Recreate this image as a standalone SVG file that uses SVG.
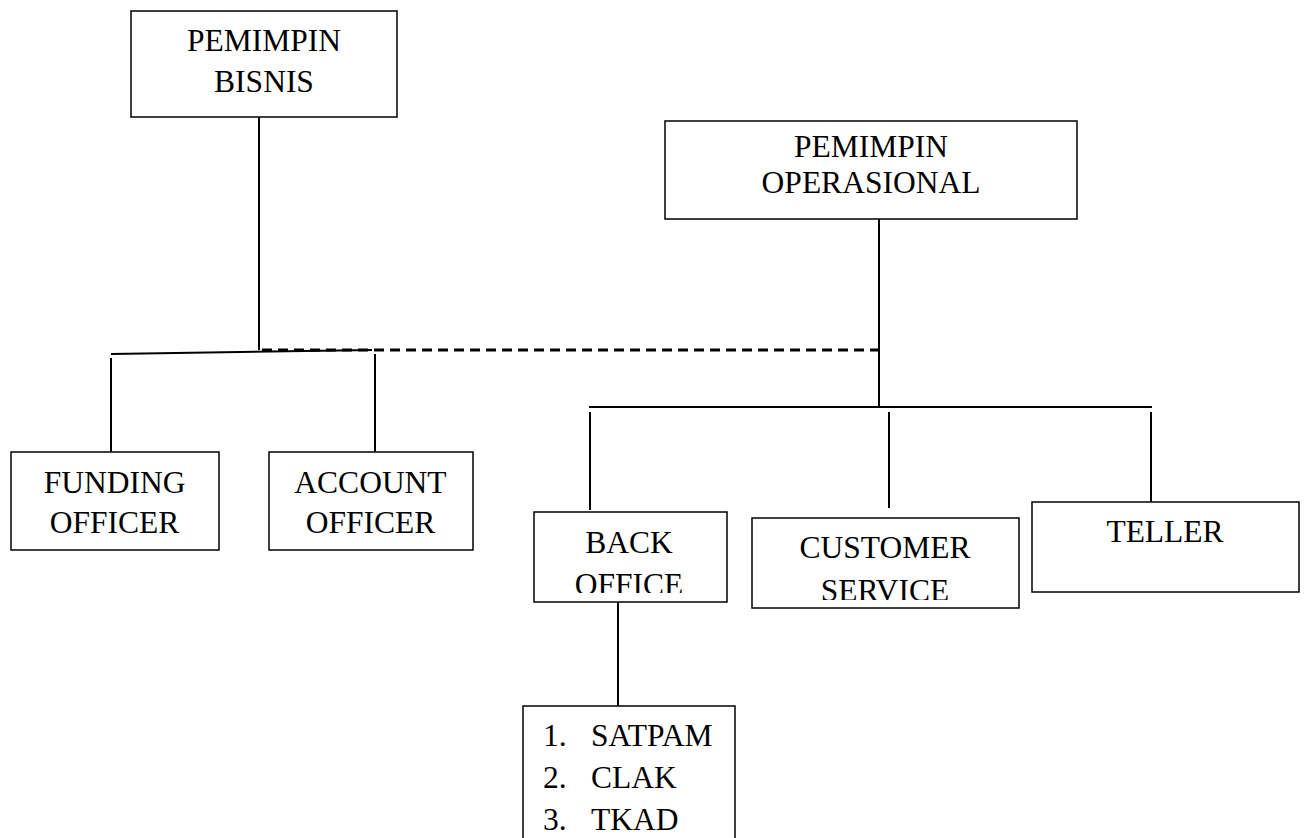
<svg xmlns="http://www.w3.org/2000/svg" width="1304" height="838" viewBox="0 0 1304 838">
<style>
.box{fill:#fff;stroke:#000;stroke-width:1.5}
.t{font-family:"Liberation Serif","Times New Roman",serif;font-size:31.5px;fill:#000;text-anchor:middle}
.tl{font-family:"Liberation Serif","Times New Roman",serif;font-size:31.5px;fill:#000}
.c{stroke:#000;stroke-width:2;fill:none}
.d{stroke:#000;stroke-width:3;fill:none;stroke-dasharray:10 6}
</style>
<defs>
<clipPath id="clipBO"><rect x="534" y="512" width="193" height="81"/></clipPath>
<clipPath id="clipCS"><rect x="752" y="518" width="267" height="82"/></clipPath>
</defs>
<rect width="1304" height="838" fill="#fff"/>
<g id="connectors">
<line class="c" x1="259" y1="117" x2="259" y2="350"/>
<line class="c" x1="111" y1="354" x2="372" y2="350"/>
<line class="d" x1="262" y1="350" x2="879" y2="350"/>
<line class="c" x1="111" y1="358" x2="111" y2="452"/>
<line class="c" x1="375" y1="354" x2="375" y2="452"/>
<line class="c" x1="879" y1="219" x2="879" y2="407"/>
<line class="c" x1="589" y1="407" x2="1152" y2="407"/>
<line class="c" x1="590" y1="412" x2="590" y2="510"/>
<line class="c" x1="889" y1="412" x2="889" y2="508"/>
<line class="c" x1="1151" y1="412" x2="1151" y2="502"/>
<line class="c" x1="618" y1="602" x2="618" y2="706"/>
</g>
<g id="pemimpin-bisnis">
<rect class="box" x="131" y="11" width="266" height="106"/>
<text class="t" x="264" y="51">PEMIMPIN</text>
<text class="t" x="264" y="92">BISNIS</text>
</g>
<g id="pemimpin-operasional">
<rect class="box" x="665" y="121" width="412" height="98"/>
<text class="t" x="871" y="157">PEMIMPIN</text>
<text class="t" x="871" y="193">OPERASIONAL</text>
</g>
<g id="funding-officer">
<rect class="box" x="11" y="452" width="208" height="98"/>
<text class="t" x="114.5" y="493">FUNDING</text>
<text class="t" x="114.5" y="533">OFFICER</text>
</g>
<g id="account-officer">
<rect class="box" x="269" y="452" width="204" height="98"/>
<text class="t" x="370.5" y="493">ACCOUNT</text>
<text class="t" x="370.5" y="533">OFFICER</text>
</g>
<g id="back-office">
<rect class="box" x="534" y="512" width="193" height="90"/>
<text class="t" x="629" y="553">BACK</text>
<text class="t" x="629" y="595" clip-path="url(#clipBO)">OFFICE</text>
</g>
<g id="customer-service">
<rect class="box" x="752" y="518" width="267" height="90"/>
<text class="t" x="885" y="558">CUSTOMER</text>
<text class="t" x="885" y="601" clip-path="url(#clipCS)">SERVICE</text>
</g>
<g id="teller">
<rect class="box" x="1032" y="502" width="267" height="90"/>
<text class="t" x="1165" y="542">TELLER</text>
</g>
<g id="staff-list">
<rect class="box" x="523" y="706" width="212" height="140"/>
<text class="tl" x="543" y="746">1.</text>
<text class="tl" x="591" y="746">SATPAM</text>
<text class="tl" x="543" y="788">2.</text>
<text class="tl" x="591" y="788">CLAK</text>
<text class="tl" x="543" y="830">3.</text>
<text class="tl" x="591" y="830">TKAD</text>
</g>
</svg>
